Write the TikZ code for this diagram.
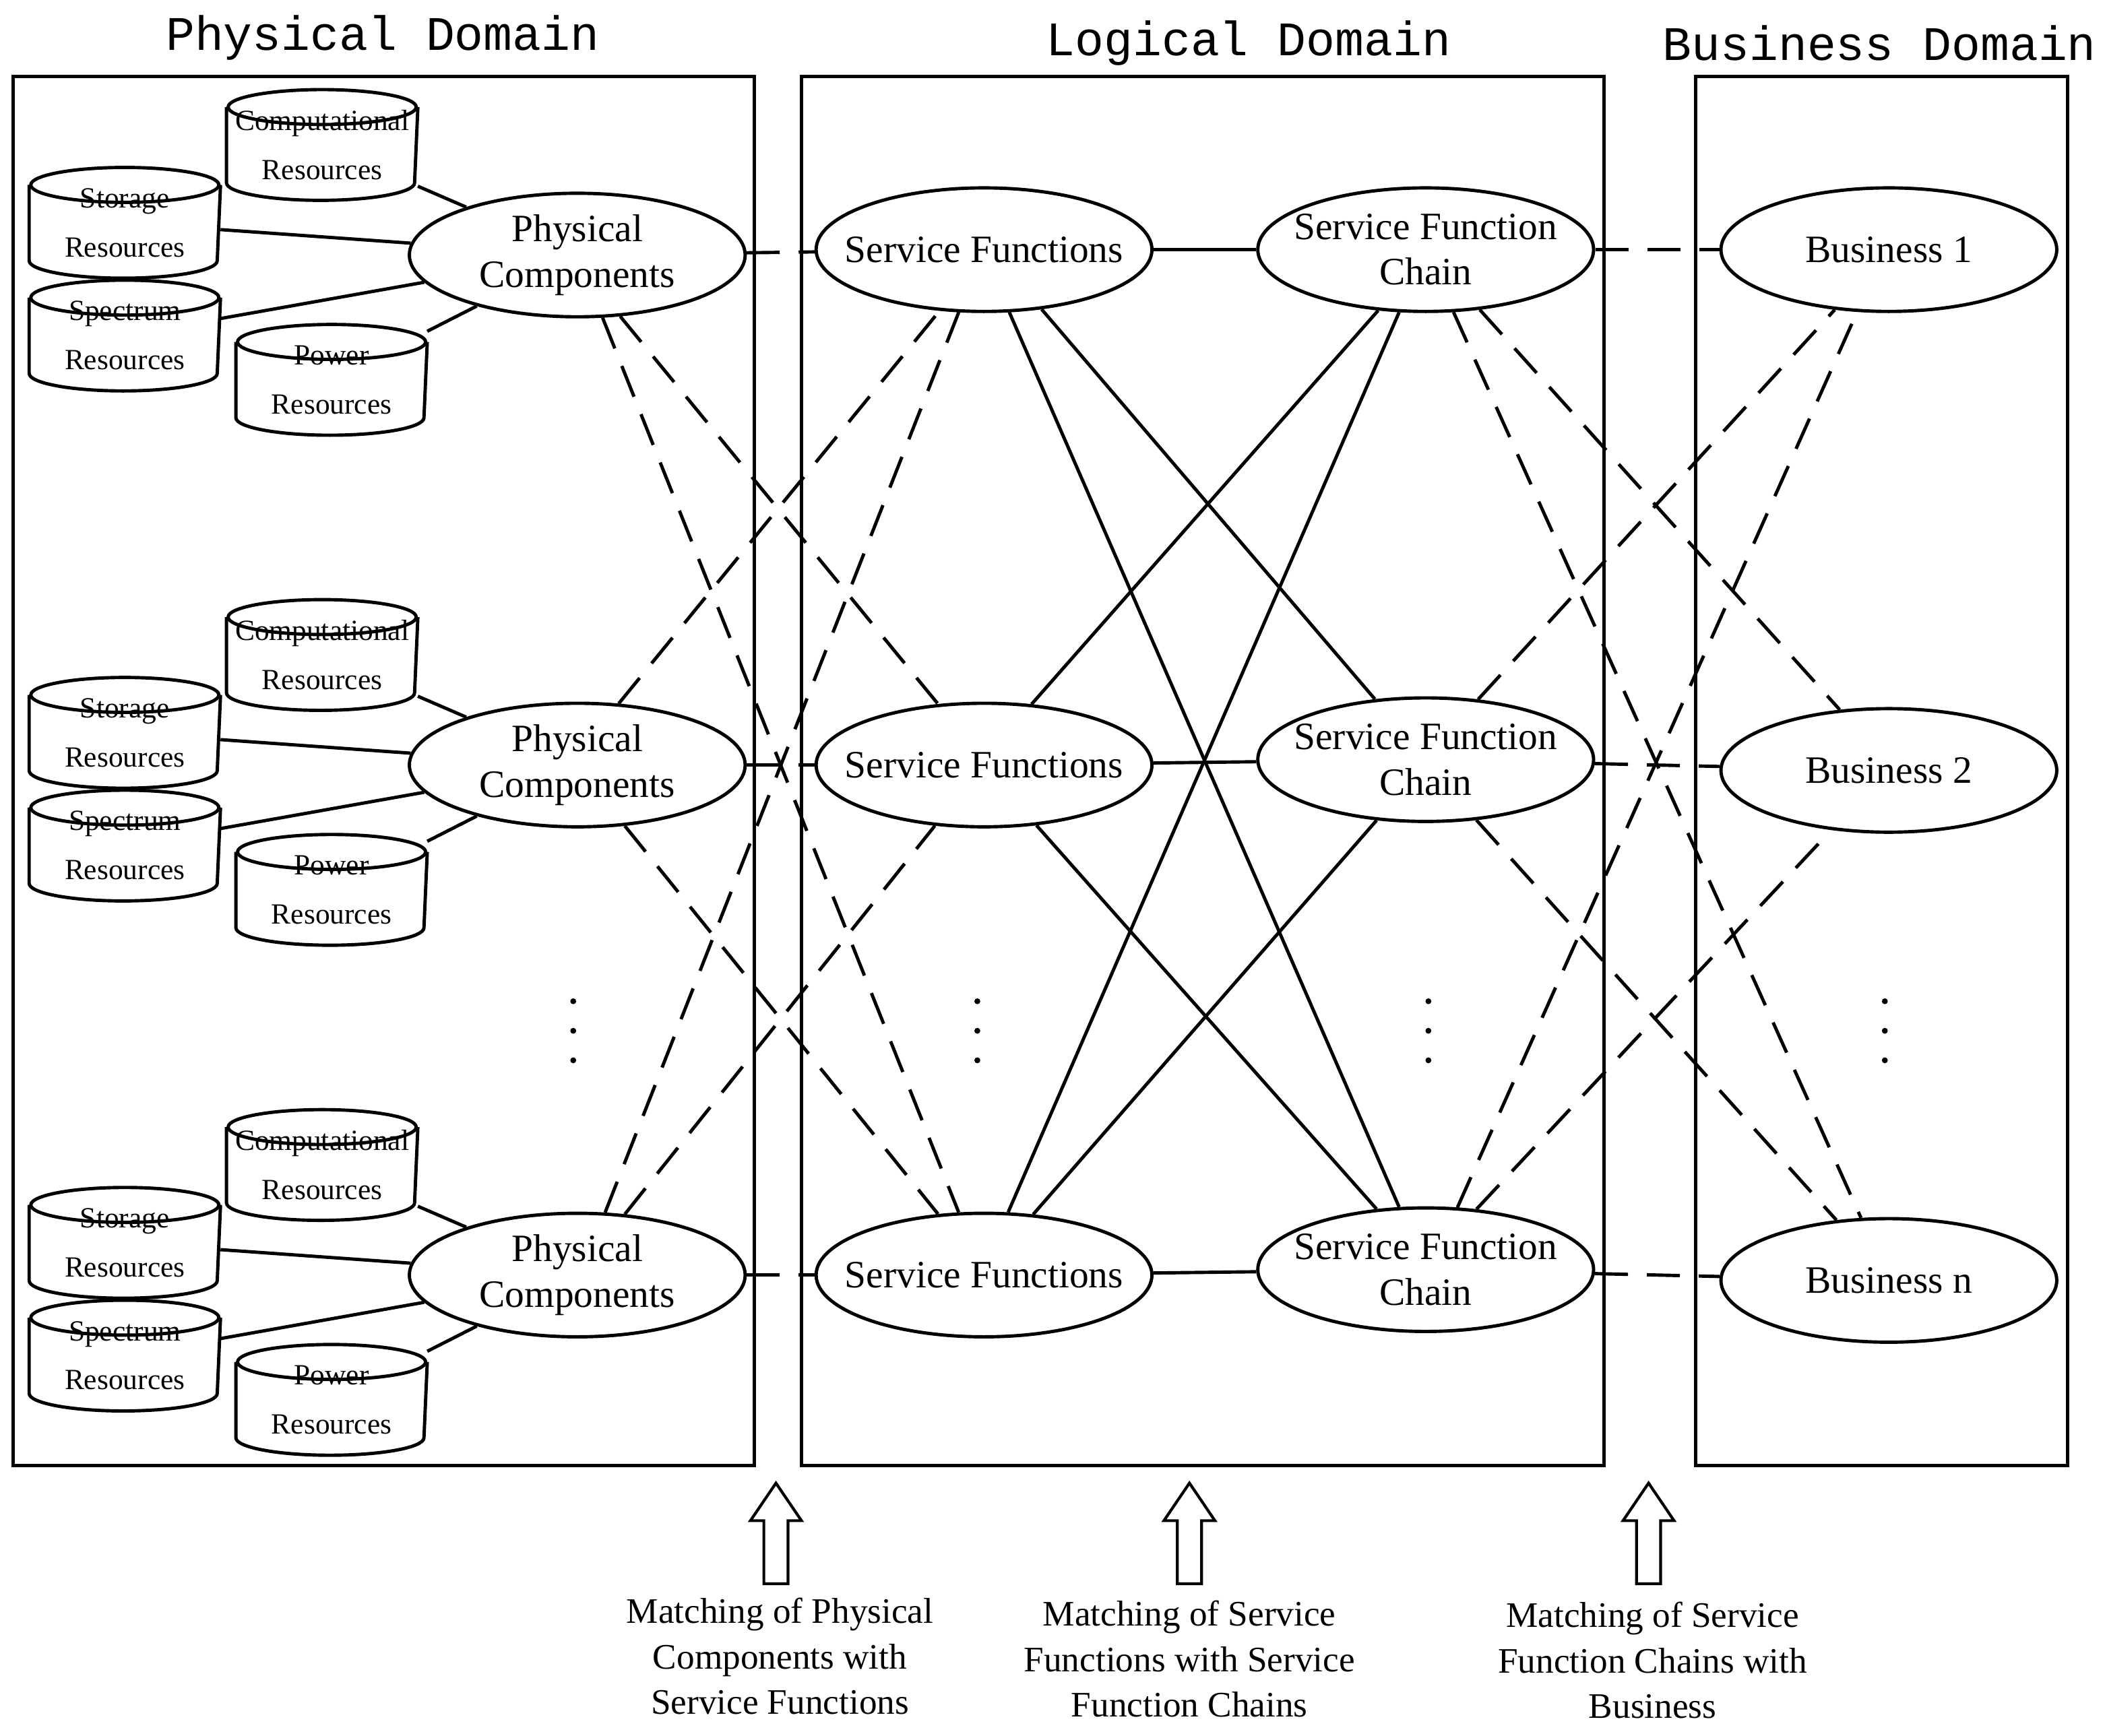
\documentclass[tikz,border=0pt]{standalone}
\usepackage{fontspec}
\setmainfont{Liberation Serif}
\newfontfamily\monof{Liberation Mono}
\usetikzlibrary{shapes.geometric}
\newcommand\mycyl[1]{\draw ([yshift=-0.13cm]#1.north west) -- ([yshift=0.13cm]#1.south west) arc[start angle=180,end angle=360,x radius=0.7cm,y radius=0.13cm] -- ([yshift=-0.13cm]#1.north east);
  \draw ([yshift=-0.13cm]#1.north) ellipse [x radius=0.7cm,y radius=0.13cm];}
\begin{document}
\begin{tikzpicture}[x=0.01cm,y=-0.01cm,line width=0.7pt,
  ell/.style={ellipse,draw,minimum width=2.5cm,minimum height=0.92cm,inner ysep=0pt,inner xsep=-0.2cm,align=center,font=\fontsize{8.2}{9.6}\selectfont},
  cyl/.style={rectangle,draw=none,minimum width=1.4cm,minimum height=0.8cm,inner sep=0pt,align=center,font=\fontsize{6.2}{10.4}\selectfont},
  ttl/.style={font=\monof\fontsize{10.2}{12}\selectfont},
  lbl/.style={align=center,font=\fontsize{7.6}{9.6}\selectfont},
  dsh/.style={dash pattern=on 7pt off 4pt}]
\useasboundingbox (0,0) rectangle (1568,1293);
\node[ttl] (t1) at (285,28) {Physical Domain};
\node[ttl] (t2) at (930,32) {Logical Domain};
\node[ttl] (t3) at (1400,32) {Business Domain};
\draw (10,57) rectangle (562,1092);
\draw (597,57) rectangle (1195,1092);
\draw (1263,57) rectangle (1540,1092);
\foreach \i/\y in {1/190,2/570,3/950}{
  \node[ell] (pc\i) at (430,\y) {Physical\\Components};
  \node[cyl] (co\i) at (240,\y-82) {Computational\\Resources};
  \node[cyl] (st\i) at (93,\y-24) {Storage\\Resources};
  \node[cyl] (sp\i) at (93,\y+60) {Spectrum\\Resources};
  \node[cyl] (po\i) at (247,\y+93) {Power\\Resources};
  \mycyl{co\i}\mycyl{st\i}\mycyl{sp\i}\mycyl{po\i}
  \draw (co\i) -- (pc\i);
  \draw (st\i) -- (pc\i);
  \draw (sp\i) -- (pc\i);
  \draw (po\i) -- (pc\i);
}
\foreach \i/\y in {1/186,2/570,3/950}{\node[ell] (sf\i) at (733,\y) {Service Functions};}
\foreach \i/\y in {1/186,2/566,3/946}{\node[ell] (sc\i) at (1062,\y) {Service Function\\Chain};}
\node[ell] (b1) at (1407,186) {Business 1};
\node[ell] (b2) at (1407,574) {Business 2};
\node[ell] (b3) at (1407,954) {Business n};
\foreach \i in {1,2,3}{
  \draw[dsh] (pc\i) -- (sf\i);
  \draw (sf\i) -- (sc\i);
  \draw[dsh] (sc\i) -- (b\i);
}
\draw[dsh] (pc1.-55) -- (sf2.127);
\draw[dsh] (pc1.-68) -- (sf3.112);
\draw[dsh] (pc2.56) -- (sf1.-126);
\draw[dsh] (pc2.-52) -- (sf3.127);
\draw[dsh] (pc3.66) -- (sf1.-112);
\draw[dsh] (pc3.52) -- (sf2.-129);
\draw (sf1.-68) -- (sc3.113);
\draw (sf1.-46) -- (sc2.130);
\draw (sf2.52) -- (sc1.-128);
\draw (sf2.-49) -- (sc3.129);
\draw (sf3.69) -- (sc1.-113);
\draw (sf3.51) -- (sc2.-129);
\draw[dsh] (sc1.-66) -- (b3.114);
\draw[dsh] (sc1.-48) -- (b2.129);
\draw[dsh] (sc2.49) -- (b1.-132);
\draw[dsh] (sc2.-50) -- (b3.131);
\draw[dsh] (sc3.63) -- (b1.-117);
\draw[dsh] (sc3.50) -- (b2.-134);
\foreach \x in {427,728,1064,1404}{\foreach \y in {746,768,790}{\fill (\x,\y) circle[radius=2.2];}}
\foreach \n/\x in {a1/578,a2/886,a3/1228}{
  \coordinate (\n) at (\x,1180);
  \draw[line width=0.6pt] (\x-9,1180) -- (\x-9,1133) -- (\x-19,1133) -- (\x,1105) -- (\x+19,1133) -- (\x+9,1133) -- (\x+9,1180) -- cycle;
}
\node[lbl] (l1) at (581,1234) {Matching of Physical\\Components with\\Service Functions};
\node[lbl] (l2) at (886,1236) {Matching of Service\\Functions with Service\\Function Chains};
\node[lbl] (l3) at (1231,1237) {Matching of Service\\Function Chains with\\Business};
\end{tikzpicture}
\end{document}
